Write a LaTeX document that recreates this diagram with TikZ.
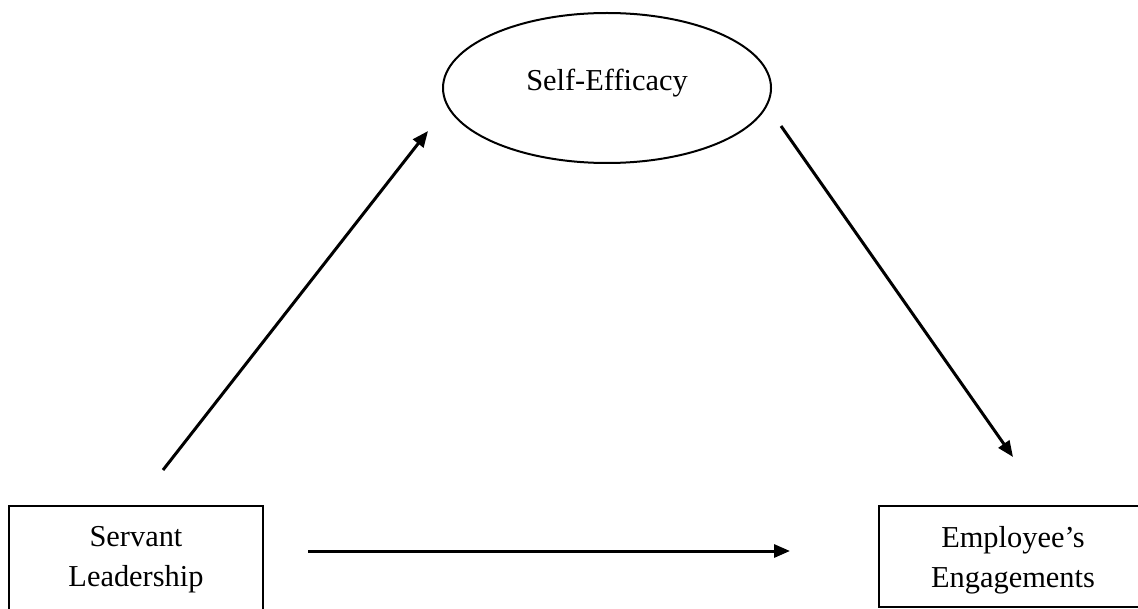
\documentclass[tikz,border=0pt]{standalone}
\usepackage{fontspec}
\setmainfont{Liberation Serif}
\usetikzlibrary{shapes.geometric,arrows.meta}
\begin{document}
\begin{tikzpicture}[x=0.5pt,y=-0.5pt,
  txt/.style={font=\fontsize{15.2}{20}\selectfont, align=center},
  boxnode/.style={txt, draw, line width=1.4pt, inner sep=0pt},
  ellnode/.style={txt, draw, ellipse, line width=1pt, inner sep=0pt,
    minimum width=164pt, minimum height=75pt, text depth=8.3pt},
  conn/.style={line width=1.5pt, -{Triangle[length=8pt,width=6.5pt]}}]
\path[use as bounding box] (0,0) rectangle (1138,609);
\clip (0,0) rectangle (1138,609);
\node[ellnode] (se) at (607,88) {Self-Efficacy};
\node[boxnode, minimum width=127pt, minimum height=54pt] (sl) at (136,560) {Servant\\Leadership};
\node[boxnode, minimum width=134pt, minimum height=50.5pt, text depth=0pt] (ee) at (1013,556.5) {Employee’s\\Engagements};
\coordinate (a1s) at (163,470);
\coordinate (a1e) at (428,131);
\coordinate (a2s) at (781,126);
\coordinate (a2e) at (1013,457);
\coordinate (a3s) at (308,551);
\coordinate (a3e) at (790,551);
\draw[conn] (a1s) -- (a1e);
\draw[conn] (a2s) -- (a2e);
\draw[conn] (a3s) -- (a3e);
\end{tikzpicture}
\end{document}
